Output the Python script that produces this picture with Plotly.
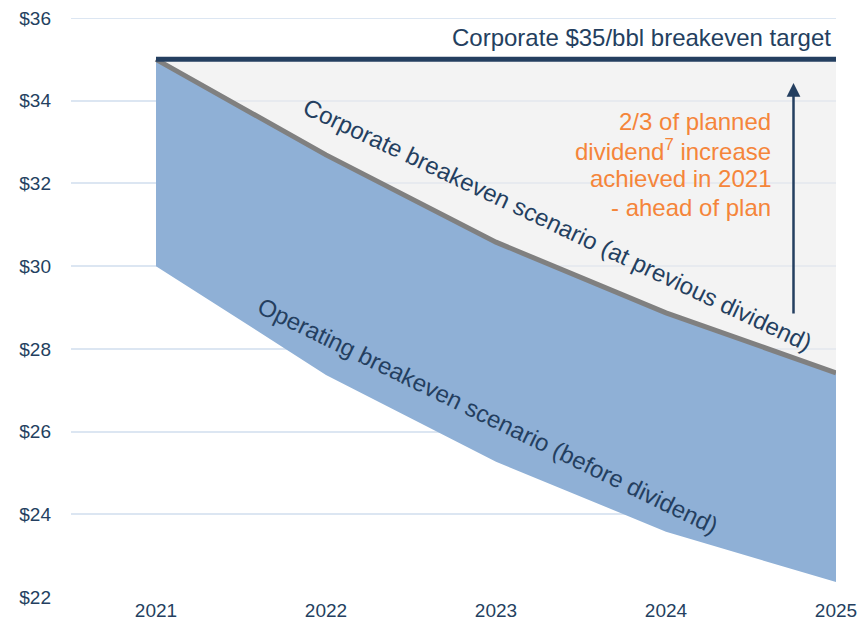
import plotly.graph_objects as go

years = [2021, 2022, 2023, 2024, 2025]
corporate = [35.0, 32.69, 30.58, 28.87, 27.42]
operating = [30.0, 27.37, 25.27, 23.58, 22.36]
target = [35.0, 35.0, 35.0, 35.0, 35.0]
ytick_vals = [22, 24, 26, 28, 30, 32, 34, 36]
ytick_text = ["$22", "$24", "$26", "$28", "$30", "$32", "$34", "$36"]
note_lines = ["2/3 of planned", "dividend<sup>7</sup> increase", "achieved in 2021", "- ahead of plan"]
note_y = [33.49, 32.81, 32.13, 31.43]

NAVY = "#243F60"
ORANGE = "#F5853A"
BLUE = "#8FB0D6"
GRAY = "#808080"
GRID = "#DCE6F2"
FONT = "Liberation Sans, Arial, sans-serif"

fig = go.Figure()
# light grey gap between target and corporate scenario
fig.add_trace(go.Scatter(x=years, y=target, mode="lines", line=dict(width=0), hoverinfo="skip"))
fig.add_trace(go.Scatter(x=years, y=corporate, mode="lines", line=dict(width=0),
                         fill="tonexty", fillcolor="rgba(236,236,236,0.65)", hoverinfo="skip"))
# blue band between operating and corporate
fig.add_trace(go.Scatter(x=years, y=operating, mode="lines", line=dict(width=0), hoverinfo="skip"))
fig.add_trace(go.Scatter(x=years, y=corporate, mode="lines", line=dict(width=0),
                         fill="tonexty", fillcolor=BLUE, hoverinfo="skip"))
# lines on top
fig.add_trace(go.Scatter(x=years, y=corporate, mode="lines", line=dict(color=GRAY, width=5)))
fig.add_trace(go.Scatter(x=years, y=target, mode="lines", line=dict(color=NAVY, width=5)))

# top gridline (at the edge of the plot area)
fig.add_shape(type="line", xref="paper", yref="y", x0=0, x1=1, y0=ytick_vals[-1], y1=ytick_vals[-1],
              line=dict(color=GRID, width=2), layer="below")

fig.add_annotation(x=2024.98, y=35.52, xref="x", yref="y", text="Corporate $35/bbl breakeven target",
                   showarrow=False, xanchor="right", yanchor="middle",
                   font=dict(family=FONT, size=24, color=NAVY))
fig.add_annotation(x=2023.36, y=31.0, text="Corporate breakeven scenario (at previous dividend)",
                   showarrow=False, textangle=25.3, font=dict(family=FONT, size=24, color=NAVY))
fig.add_annotation(x=2022.95, y=26.4, text="Operating breakeven scenario (before dividend)",
                   showarrow=False, textangle=26, font=dict(family=FONT, size=24, color=NAVY))
for line, yv in zip(note_lines, note_y):
    fig.add_annotation(x=2024.63, y=yv, text=line, showarrow=False, xanchor="right", yanchor="middle",
                       align="right", font=dict(family=FONT, size=24, color=ORANGE))
fig.add_annotation(x=2024.75, y=34.43, ax=2024.75, ay=28.82, xref="x", yref="y", axref="x", ayref="y",
                   text="", showarrow=True, arrowhead=2, arrowsize=1.1, arrowwidth=2.5, arrowcolor=NAVY)

fig.update_layout(
    width=860, height=620,
    margin=dict(l=63, r=32, t=10, b=31, autoexpand=False),
    paper_bgcolor="white", plot_bgcolor="white",
    showlegend=False,
    font=dict(family=FONT, color=NAVY),
)
fig.update_xaxes(range=[2020.5, 2025], tickvals=years, ticktext=[str(y) for y in years],
                 showgrid=False, zeroline=False, showline=False, ticks="", automargin=False,
                 ticklabeloverflow="allow",
                 tickfont=dict(size=19, color=NAVY), fixedrange=True)
fig.update_yaxes(range=[22, 36], tickvals=ytick_vals, ticktext=ytick_text,
                 showgrid=True, gridcolor=GRID, gridwidth=2, zeroline=False, showline=False, ticks="",
                 automargin=False, ticklabeloverflow="allow",
                 tickfont=dict(size=19, color=NAVY), ticklabelstandoff=19, fixedrange=True)

fig.write_html("out.html")
